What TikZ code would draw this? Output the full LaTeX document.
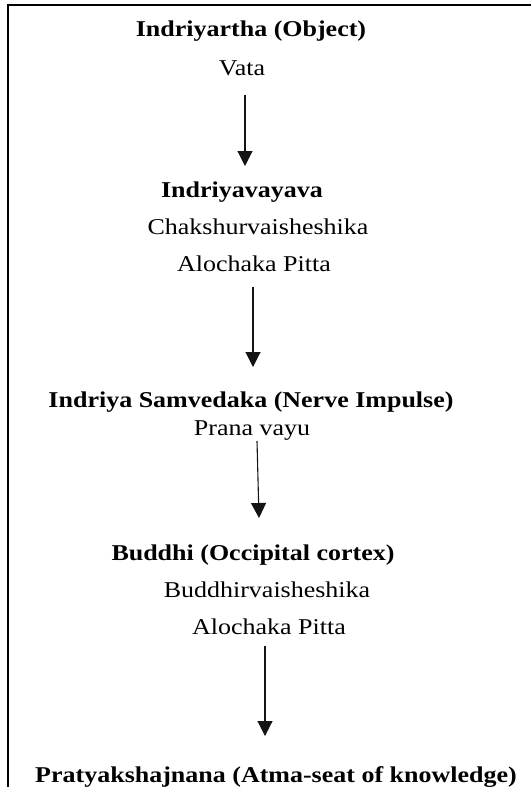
\documentclass[tikz,border=0pt]{standalone}
\usepackage{fontspec}
\setmainfont[FakeStretch=1.15]{Liberation Serif}
\usepackage{tikz}
\usetikzlibrary{arrows.meta,positioning}
\definecolor{myblack}{RGB}{20,20,20}

\begin{document}
\begin{tikzpicture}[x=1pt,y=-1pt,every node/.style={inner sep=0pt,anchor=base,font=\fontsize{22.6}{27}\selectfont},
  head/.style={font=\fontsize{22.6}{27}\selectfont\bfseries},
  flow/.style={draw=myblack,line width=1.1pt,-{Triangle[width=15pt,length=15pt]}}]
\useasboundingbox (0,0) rectangle (531,787);
\draw[line width=1.5pt] (8,787) -- (8,5) -- (531,5);
\node[head] (obj) at (251,36) {Indriyartha (Object)};
\node (vata) at (242,75) {Vata};
\node[head] (avay) at (242,197) {Indriyavayava};
\node (chak) at (258,234) {Chakshurvaisheshika};
\node (aloch1) at (254,271) {Alochaka Pitta};
\node[head] (samv) at (251,407) {Indriya Samvedaka (Nerve Impulse)};
\node (prana) at (252,435) {Prana vayu};
\node[head] (buddhi) at (253,560) {Buddhi (Occipital cortex)};
\node (bvai) at (267,597) {Buddhirvaisheshika};
\node (aloch2) at (269,634) {Alochaka Pitta};
\node[head] (prat) at (276,782) {Pratyakshajnana (Atma-seat of knowledge)};
% arrows
\coordinate (t1) at (245,95);  \coordinate (h1) at (245,166);
\coordinate (t2) at (253,287); \coordinate (h2) at (253,367);
\coordinate (t3) at (257,441); \coordinate (h3) at (259,518);
\coordinate (t4) at (265,646); \coordinate (h4) at (265,736);
\draw[flow] (t1) -- (h1);
\draw[flow] (t2) -- (h2);
\draw[flow] (t3) -- (h3);
\draw[flow] (t4) -- (h4);
\end{tikzpicture}
\end{document}
